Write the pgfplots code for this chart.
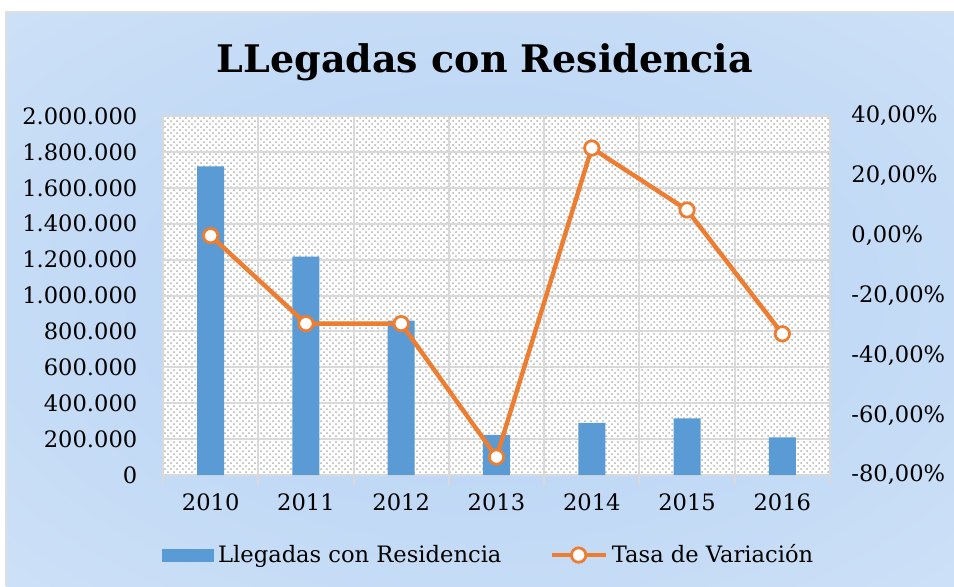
\documentclass[border=0pt]{standalone}
\usepackage{fontspec}
\setmainfont{DejaVu Serif}
\usepackage{pgfplots}
\pgfplotsset{compat=1.18}
\usetikzlibrary{patterns}
\definecolor{barblue}{HTML}{5B9BD5}
\definecolor{lineorange}{HTML}{ED7D31}
\definecolor{gridgray}{HTML}{D9D9D9}
\definecolor{bgin}{HTML}{B5D2F4}
\definecolor{bgout}{HTML}{DDEAF9}
\pgfdeclareradialshading{bgshade}{\pgfpoint{0bp}{0bp}}{color(0bp)=(bgin); color(60bp)=(bgout)}
\newcommand{\tickfont}{\fontsize{11.3}{13}\selectfont}
\pgfplotsset{
  barlegend/.style={legend image code/.code={\fill[barblue] (0pt,-3pt) rectangle (25.5pt,3pt);}},
  linelegend/.style={legend image code/.code={\draw[##1, mark repeat=2, mark phase=2] plot coordinates {(0pt,0pt) (13.5pt,0pt) (27pt,0pt)};}},
}
\begin{document}
\begin{tikzpicture}
\useasboundingbox (-81.5pt,-55.5pt) rectangle (395.5pt,237.5pt);
\fill[white] (-81.5pt,-55.5pt) rectangle (395.5pt,237.5pt);
\shade[shading=bgshade] (-78.5pt,-55.5pt) rectangle (395.5pt,231.5pt);
\draw[gray!25, line width=0.7pt] (-78.5pt,-55.5pt) -- (-78.5pt,231.5pt) -- (395.5pt,231.5pt);
\node[font=\fontsize{19}{22}\selectfont\bfseries, anchor=base] at (161pt,201.5pt) {LLegadas con Residencia};

\begin{axis}[
  at={(0,0)}, anchor=south west, scale only axis,
  width=333.5pt, height=179.5pt,
  xmin=-0.5, xmax=6.5, ymin=0, ymax=2000000,
  axis x line*=bottom, axis y line*=left,
  x axis line style={draw=gridgray, line width=1pt, -},
  y axis line style={draw=none},
  xtick={0,1,2,3,4,5,6},
  xticklabels={2010,2011,2012,2013,2014,2015,2016},
  minor xtick={-0.5,0.5,1.5,2.5,3.5,4.5,5.5,6.5},
  xminorgrids=true, ymajorgrids=true,
  grid style={draw=gridgray, line width=1pt},
  minor grid style={draw=gridgray, line width=1pt},
  major x tick style={draw=none},
  minor x tick style={draw=gridgray, line width=1pt},
  minor tick length=5pt, tick align=center,
  major y tick style={draw=none},
  scaled y ticks=false,
  ytick={0,200000,400000,600000,800000,1000000,1200000,1400000,1600000,1800000,2000000},
  yticklabels={0,200.000,400.000,600.000,800.000,1.000.000,1.200.000,1.400.000,1.600.000,1.800.000,2.000.000},
  tick label style={font=\tickfont, text=black},
  yticklabel style={inner xsep=0pt, xshift=-10.5pt},
  xticklabel style={inner ysep=0pt, yshift=-5pt},
  axis background/.style={fill=white, postaction={pattern=crosshatch dots, pattern color=gray!60}},
  ybar, bar width=13.5pt,
]
\addplot[ybar, fill=barblue, draw=none] coordinates {
  (0,1720000) (1,1216000) (2,860000) (3,223000) (4,291000) (5,316000) (6,210000)};
\end{axis}

\begin{axis}[
  at={(0,0)}, anchor=south west, scale only axis,
  width=333.5pt, height=179.5pt,
  xmin=-0.5, xmax=6.5, ymin=-80, ymax=40,
  axis x line=none, axis y line*=right,
  y axis line style={draw=none}, major y tick style={draw=none},
  ytick={-80,-60,-40,-20,0,20,40},
  yticklabels={{-80,00\%},{-60,00\%},{-40,00\%},{-20,00\%},{0,00\%},{20,00\%},{40,00\%}},
  tick label style={font=\tickfont, text=black},
  yticklabel style={inner xsep=0pt, xshift=10.5pt},
  legend style={at={(0.49,-0.223)}, anchor=center, draw=none, fill=none,
    font=\tickfont, legend columns=2,
    /tikz/every even column/.append style={column sep=22pt}},
  legend cell align=left,
]
\addlegendimage{barlegend}
\addlegendentry{Llegadas con Residencia}
\addplot[lineorange, line width=2.2pt, mark=*, mark size=3.6pt,
  mark options={fill=white, draw=lineorange, line width=1.4pt}, linelegend]
  coordinates {(0,0) (1,-29.4) (2,-29.4) (3,-74.0) (4,29.3) (5,8.6) (6,-32.8)};
\addlegendentry{Tasa de Variación}
\end{axis}
\end{tikzpicture}
\end{document}
